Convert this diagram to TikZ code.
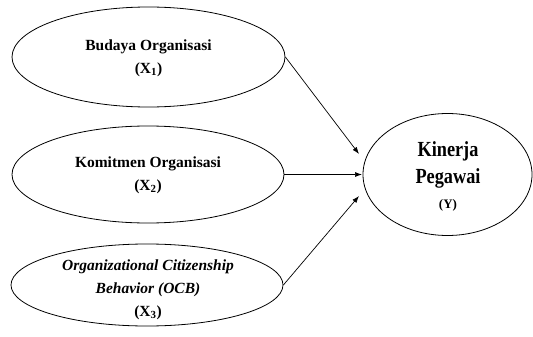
\documentclass[tikz,border=0pt]{standalone}
\usepackage{fontspec}
\setmainfont{Liberation Serif}
\usetikzlibrary{shapes.geometric,arrows.meta}
\begin{document}
\begin{tikzpicture}[x=1pt,y=-1pt,
  oval/.style={draw,ellipse,line width=0.8pt,inner sep=0pt},
  lbl/.style={align=center,font=\bfseries\fontsize{15.5}{23}\selectfont,inner sep=0pt},
  link/.style={-{Latex[length=7pt,width=5pt]},line width=0.7pt}]
\useasboundingbox (0,0) rectangle (533,337);
\node[oval,minimum width=273pt,minimum height=100pt] (e1) at (148.5,57) {};
\node[lbl] (t1) at (148.5,58) {Budaya Organisasi\\(X\textsubscript{1})};
\node[oval,minimum width=272pt,minimum height=97pt] (e2) at (148,174.5) {};
\node[lbl] (t2) at (148,175) {Komitmen Organisasi\\(X\textsubscript{2})};
\node[oval,minimum width=272pt,minimum height=82pt] (e3) at (147,285) {};
\node[lbl] (t3) at (148,290) {\itshape Organizational Citizenship\\\itshape Behavior (OCB)\\(X\textsubscript{3})};
\node[oval,minimum width=169pt,minimum height=122pt] (ey) at (447.5,174.5) {};
\node[align=center,inner sep=0pt,font=\bfseries\fontsize{21.5}{27}\selectfont] (ty) at (448,165) {\scalebox{0.85}[1]{Kinerja}\\\scalebox{0.85}[1]{Pegawai}};
\node[inner sep=0pt,font=\bfseries\fontsize{13}{15}\selectfont] (ty2) at (448,205) {(Y)};
\coordinate (p1) at (359,154);
\coordinate (p2) at (362,174.5);
\coordinate (p3) at (359,196);
\draw[link] (e1.east) -- (p1);
\draw[link] (e2.east) -- (p2);
\draw[link] (e3.east) -- (p3);
\end{tikzpicture}
\end{document}
